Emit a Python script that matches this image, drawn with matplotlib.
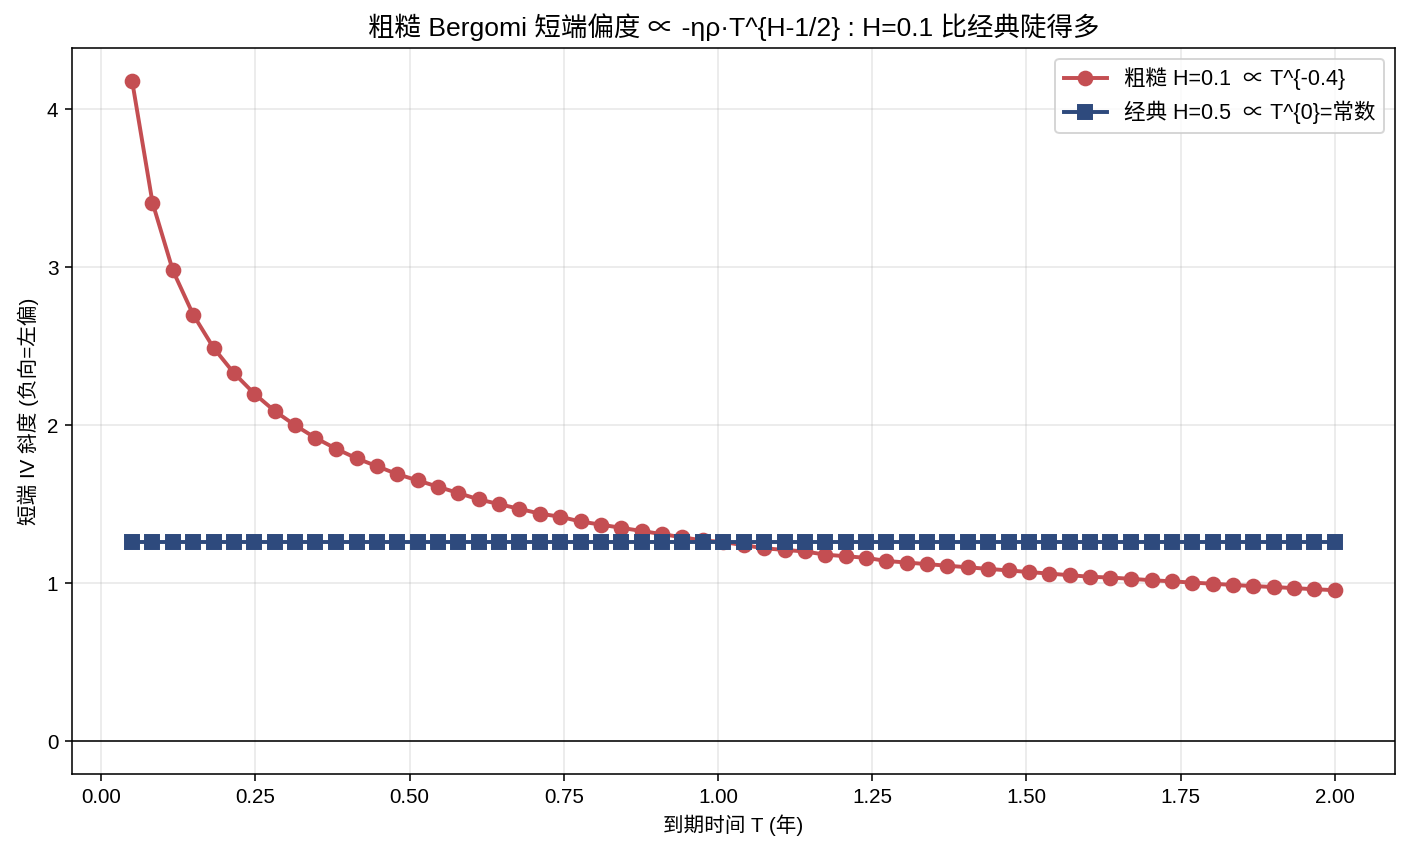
import matplotlib
matplotlib.use("Agg")
import matplotlib.pyplot as plt

plt.rcParams['font.family'] = ['Liberation Sans', 'Noto Sans CJK SC', 'DejaVu Sans']
plt.rcParams['axes.unicode_minus'] = False

# maturities (years)
T = [0.050, 0.083, 0.116, 0.149, 0.182, 0.215, 0.248, 0.281, 0.314, 0.347,
     0.381, 0.414, 0.447, 0.480, 0.513, 0.546, 0.579, 0.612, 0.645, 0.678,
     0.711, 0.744, 0.777, 0.810, 0.843, 0.876, 0.909, 0.942, 0.975, 1.008,
     1.042, 1.075, 1.108, 1.141, 1.174, 1.207, 1.240, 1.273, 1.306, 1.339,
     1.372, 1.405, 1.438, 1.471, 1.504, 1.537, 1.570, 1.603, 1.636, 1.669,
     1.703, 1.736, 1.769, 1.802, 1.835, 1.868, 1.901, 1.934, 1.967, 2.000]

# rough Bergomi H=0.1 short-end skew
rough = [4.18, 3.41, 2.98, 2.70, 2.49, 2.33, 2.20, 2.09, 2.00, 1.92,
         1.85, 1.79, 1.74, 1.69, 1.65, 1.61, 1.57, 1.53, 1.50, 1.47,
         1.44, 1.42, 1.39, 1.37, 1.35, 1.33, 1.31, 1.29, 1.27, 1.26,
         1.24, 1.22, 1.21, 1.20, 1.18, 1.17, 1.16, 1.14, 1.13, 1.12,
         1.11, 1.10, 1.09, 1.08, 1.07, 1.06, 1.05, 1.04, 1.035, 1.027,
         1.018, 1.011, 1.003, 0.996, 0.988, 0.981, 0.975, 0.968, 0.961, 0.955]

# classical H=0.5: flat
classic = [1.26] * len(T)

fig, ax = plt.subplots(figsize=(9.993, 6.057), dpi=141)
fig.subplots_adjust(left=0.0511, right=0.990, top=0.9438, bottom=0.0937)

ax.plot(T, rough, color='#C44E52', marker='o', lw=2, ms=7,
        label='粗糙 H=0.1  ∝ T^{-0.4}')
ax.plot(T, classic, color='#2E4A7D', marker='s', lw=2, ms=7,
        label='经典 H=0.5  ∝ T^{0}=常数')
ax.axhline(0, color='black', lw=0.8)

ax.set_title('粗糙 Bergomi 短端偏度 ∝ -ηρ·T^{H-1/2} : H=0.1 比经典陡得多', fontsize=13.5)
ax.set_xlabel('到期时间 T (年)', fontsize=10.5)
ax.set_ylabel('短端 IV 斜度 (负向=左偏)', fontsize=10.5)
ax.tick_params(labelsize=10.5)
ax.grid(True, alpha=0.3)
ax.legend(loc='upper right', fontsize=11)

fig.savefig('out.png', dpi=141)
